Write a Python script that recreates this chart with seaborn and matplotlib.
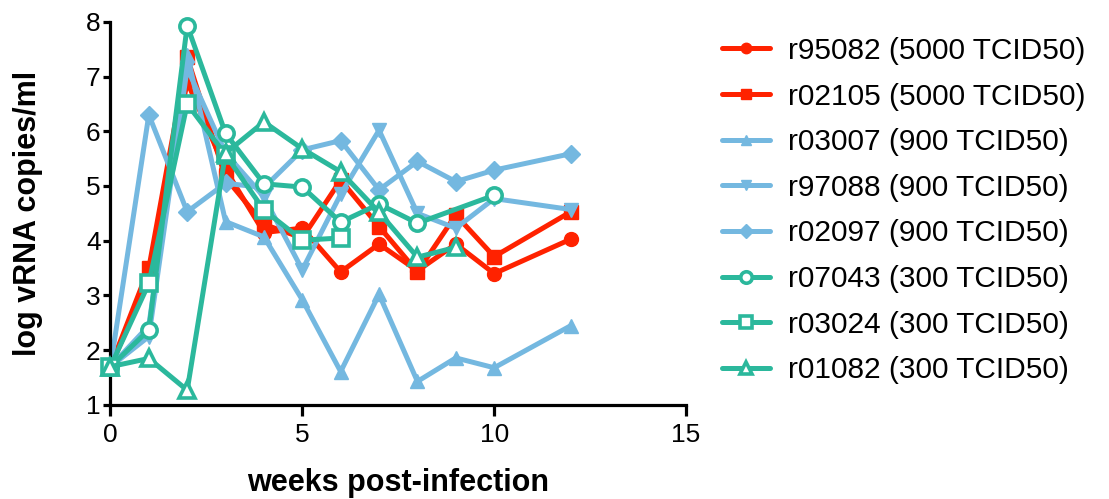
import matplotlib
matplotlib.use("Agg")
import matplotlib.pyplot as plt
import seaborn as sns
import pandas as pd

# weeks post-infection for each animal
weeks_all = [0, 1, 2, 3, 4, 5, 6, 7, 8, 9, 10, 12]
weeks_r07043 = [0, 1, 2, 3, 4, 5, 6, 7, 8, 10]
weeks_r03024 = [0, 1, 2, 3, 4, 5, 6]
weeks_r01082 = [0, 1, 2, 3, 4, 5, 6, 7, 8, 9]

# log vRNA copies/ml
r95082 = [1.7, 3.3, 6.9, 5.3, 4.15, 4.23, 3.43, 3.94, 3.45, 3.94, 3.4, 4.03]
r02105 = [1.7, 3.5, 7.35, 5.15, 4.3, 4.05, 5.11, 4.26, 3.43, 4.47, 3.71, 4.53]
r03007 = [1.7, 2.45, 7.4, 4.35, 4.07, 2.92, 1.61, 3.02, 1.43, 1.86, 1.68, 2.45]
r97088 = [1.7, 2.25, 7.15, 5.6, 4.8, 3.47, 4.85, 6.02, 4.5, 4.23, 4.77, 4.57]
r02097 = [1.7, 6.3, 4.53, 5.05, 4.97, 5.66, 5.83, 4.93, 5.45, 5.08, 5.29, 5.59]
r07043 = [1.7, 2.37, 7.93, 5.96, 5.04, 4.98, 4.34, 4.67, 4.32, 4.83]
r03024 = [1.7, 3.22, 6.5, 5.57, 4.56, 4.01, 4.05]
r01082 = [1.7, 1.85, 1.27, 5.6, 6.17, 5.68, 5.26, 4.52, 3.7, 3.88]

RED = "#FF2200"
BLUE = "#74B8E0"
TEAL = "#2BB89C"

series = [
    ("r95082 (5000 TCID50)", weeks_all, r95082, RED, "o", True),
    ("r02105 (5000 TCID50)", weeks_all, r02105, RED, "s", True),
    ("r03007 (900 TCID50)", weeks_all, r03007, BLUE, "^", True),
    ("r97088 (900 TCID50)", weeks_all, r97088, BLUE, "v", True),
    ("r02097 (900 TCID50)", weeks_all, r02097, BLUE, "D", True),
    ("r07043 (300 TCID50)", weeks_r07043, r07043, TEAL, "o", False),
    ("r03024 (300 TCID50)", weeks_r03024, r03024, TEAL, "s", False),
    ("r01082 (300 TCID50)", weeks_r01082, r01082, TEAL, "^", False),
]

sns.set_style("ticks")
plt.rcParams['font.family'] = ['Liberation Sans', 'DejaVu Sans']
plt.rcParams['text.color'] = 'black'
plt.rcParams['axes.labelcolor'] = 'black'
plt.rcParams['xtick.color'] = 'black'
plt.rcParams['ytick.color'] = 'black'

fig = plt.figure(figsize=(11.09, 4.99), dpi=100)
ax = fig.add_axes([0.0996, 0.1884, 0.519, 0.768])

for i, (name, wk, vals, col, mk, filled) in enumerate(series):
    df = pd.DataFrame({'week': wk, 'vrna': vals})
    ms = 9 if mk == "D" else 10
    if filled:
        sns.lineplot(data=df, x='week', y='vrna', ax=ax, color=col, lw=3.6,
                     marker=mk, markersize=ms, markerfacecolor=col,
                     markeredgecolor=col, markeredgewidth=1, label=name,
                     zorder=2 + i * 0.1, clip_on=False)
    else:
        sns.lineplot(data=df, x='week', y='vrna', ax=ax, color=col, lw=3.6,
                     marker=mk, markersize=11, markerfacecolor='white',
                     markeredgecolor=col, markeredgewidth=2.6, label=name,
                     zorder=3 + i * 0.1, clip_on=False)

ax.set_xlim(0, 15)
ax.set_ylim(1, 8)
ax.set_xticks([0, 5, 10, 15])
ax.set_yticks(range(1, 9))
sns.despine(ax=ax)
for s in ['left', 'bottom']:
    ax.spines[s].set_linewidth(2.3)
    ax.spines[s].set_color('black')
ax.tick_params(axis='both', width=2.3, color='black', labelcolor='black',
               labelsize=19)
ax.tick_params(axis='y', length=5, pad=2)
ax.tick_params(axis='x', length=8, pad=5)

ax.set_xlabel('weeks post-infection', fontsize=22, fontweight='bold')
ax.set_ylabel('log vRNA copies/ml', fontsize=22, fontweight='bold')
ax.xaxis.label.set_va('center')
ax.yaxis.label.set_va('center')
ax.xaxis.set_label_coords(0.5, -0.203)
ax.yaxis.set_label_coords(-0.143, 0.5)

ax.legend(loc='upper left', bbox_to_anchor=(0.651, 0.926),
          bbox_transform=fig.transFigure, frameon=False, fontsize=21.5,
          handlelength=1.6, handletextpad=0.62, labelspacing=0.59,
          borderpad=0, borderaxespad=0, markerscale=0.75)

fig.savefig('out.png', dpi=100)
